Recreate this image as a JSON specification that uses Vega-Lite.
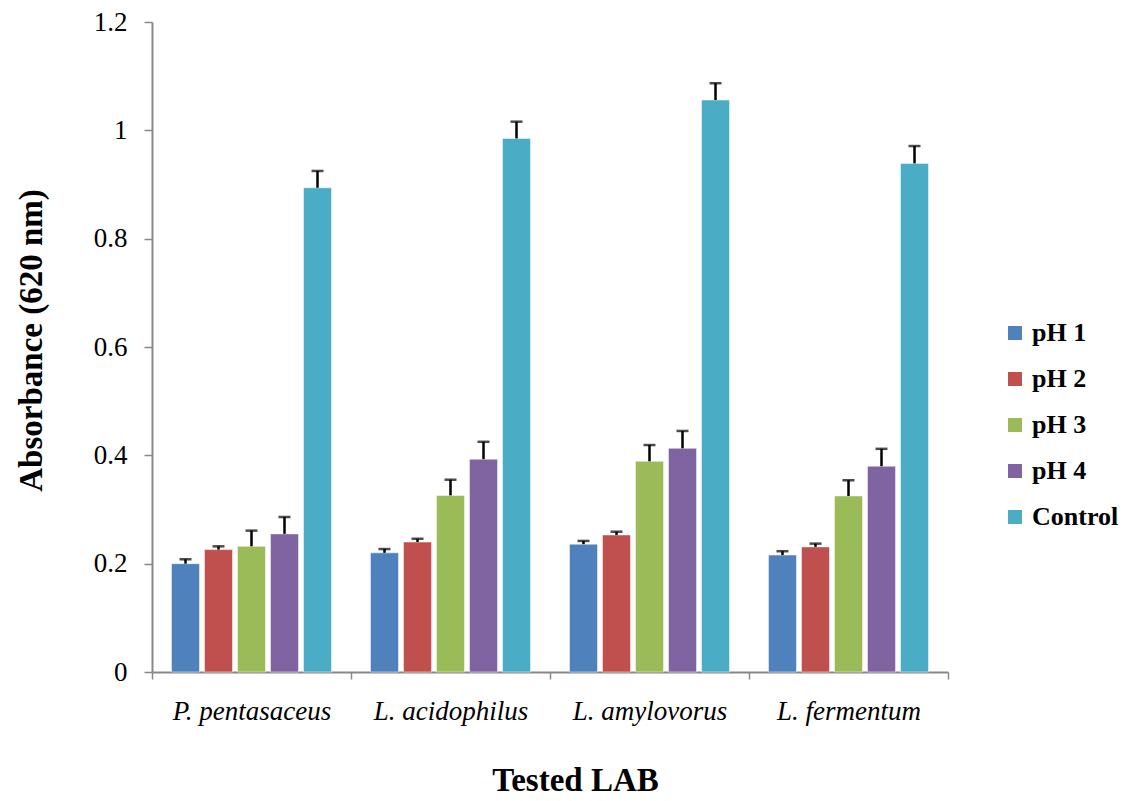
{
  "$schema": "https://vega.github.io/schema/vega-lite/v6.json",
  "width": 796,
  "height": 650,
  "autosize": "none",
  "padding": {"left": 152, "top": 22, "right": 178, "bottom": 129},
  "background": "white",
  "config": {
    "view": {"stroke": null},
    "font": "Liberation Serif"
  },
  "data": {
    "values": [
      {"lab": "P. pentasaceus", "ph": "pH 1", "value": 0.200, "hi": 0.208},
      {"lab": "P. pentasaceus", "ph": "pH 2", "value": 0.226, "hi": 0.232},
      {"lab": "P. pentasaceus", "ph": "pH 3", "value": 0.232, "hi": 0.261},
      {"lab": "P. pentasaceus", "ph": "pH 4", "value": 0.255, "hi": 0.286},
      {"lab": "P. pentasaceus", "ph": "Control", "value": 0.894, "hi": 0.925},
      {"lab": "L. acidophilus", "ph": "pH 1", "value": 0.220, "hi": 0.227},
      {"lab": "L. acidophilus", "ph": "pH 2", "value": 0.240, "hi": 0.246},
      {"lab": "L. acidophilus", "ph": "pH 3", "value": 0.326, "hi": 0.355},
      {"lab": "L. acidophilus", "ph": "pH 4", "value": 0.393, "hi": 0.425},
      {"lab": "L. acidophilus", "ph": "Control", "value": 0.985, "hi": 1.016},
      {"lab": "L. amylovorus", "ph": "pH 1", "value": 0.236, "hi": 0.242},
      {"lab": "L. amylovorus", "ph": "pH 2", "value": 0.253, "hi": 0.259},
      {"lab": "L. amylovorus", "ph": "pH 3", "value": 0.389, "hi": 0.419},
      {"lab": "L. amylovorus", "ph": "pH 4", "value": 0.413, "hi": 0.445},
      {"lab": "L. amylovorus", "ph": "Control", "value": 1.056, "hi": 1.087},
      {"lab": "L. fermentum", "ph": "pH 1", "value": 0.216, "hi": 0.223},
      {"lab": "L. fermentum", "ph": "pH 2", "value": 0.231, "hi": 0.237},
      {"lab": "L. fermentum", "ph": "pH 3", "value": 0.325, "hi": 0.354},
      {"lab": "L. fermentum", "ph": "pH 4", "value": 0.380, "hi": 0.412},
      {"lab": "L. fermentum", "ph": "Control", "value": 0.939, "hi": 0.971}
    ]
  },
  "encoding": {
    "x": {
      "field": "lab",
      "type": "nominal",
      "sort": ["P. pentasaceus", "L. acidophilus", "L. amylovorus", "L. fermentum"],
      "scale": {"paddingInner": 0, "paddingOuter": 0},
      "axis": {
        "title": "Tested LAB",
        "titleFont": "Liberation Serif",
        "titleFontSize": 33,
        "titleFontWeight": "bold",
        "titleColor": "black",
        "titleX": 423,
        "titleY": 108,
        "titleAlign": "center",
        "titleBaseline": "middle",
        "labelAngle": 0,
        "labelFont": "Liberation Serif",
        "labelFontStyle": "italic",
        "labelFontSize": 27,
        "labelColor": "black",
        "labelPadding": 19,
        "tickBand": "extent",
        "tickColor": "#888888",
        "tickSize": 7,
        "tickWidth": 1.5,
        "domainColor": "#888888",
        "domainWidth": 2
      }
    },
    "xOffset": {
      "field": "ph",
      "type": "nominal",
      "sort": ["pH 1", "pH 2", "pH 3", "pH 4", "Control"],
      "scale": {"paddingInner": 0.15, "paddingOuter": 0.59}
    }
  },
  "layer": [
    {
      "mark": {"type": "bar", "stroke": "white", "strokeOpacity": 0.5, "strokeWidth": 1},
      "encoding": {
        "y": {
          "field": "value",
          "type": "quantitative",
          "scale": {"domain": [0, 1.2], "nice": false},
          "axis": {
            "title": "Absorbance (620 nm)",
            "titleFont": "Liberation Serif",
            "titleFontSize": 33,
            "titleFontWeight": "bold",
            "titleColor": "black",
            "titleAngle": -90,
            "titleX": -121,
            "titleY": 318,
            "titleBaseline": "middle",
            "values": [0, 0.2, 0.4, 0.6, 0.8, 1, 1.2],
            "format": "~g",
            "labelFont": "Liberation Serif",
            "labelFontSize": 27,
            "labelColor": "black",
            "labelPadding": 17,
            "tickColor": "#888888",
            "tickSize": 8,
            "tickWidth": 1.5,
            "domainColor": "#888888",
            "domainWidth": 2,
            "grid": false
          }
        },
        "color": {
          "field": "ph",
          "type": "nominal",
          "sort": ["pH 1", "pH 2", "pH 3", "pH 4", "Control"],
          "scale": {
            "domain": ["pH 1", "pH 2", "pH 3", "pH 4", "Control"],
            "range": ["#4F81BD", "#C0504D", "#9BBB59", "#8064A2", "#4BACC6"]
          },
          "legend": {
            "title": null,
            "orient": "none",
            "legendX": 850,
            "legendY": 298,
            "symbolType": "square",
            "symbolSize": 196,
            "symbolStrokeWidth": 0,
            "labelFont": "Liberation Serif",
            "labelFontSize": 26,
            "labelFontWeight": "bold",
            "labelColor": "black",
            "labelOffset": 4,
            "rowPadding": 20
          }
        }
      }
    },
    {
      "mark": {"type": "rule", "color": "black", "strokeWidth": 2.5},
      "encoding": {
        "y": {"field": "value", "type": "quantitative"},
        "y2": {"field": "hi"}
      }
    },
    {
      "mark": {"type": "tick", "color": "black", "thickness": 2.5, "size": 12, "orient": "horizontal"},
      "encoding": {
        "y": {"field": "hi", "type": "quantitative"}
      }
    }
  ]
}
